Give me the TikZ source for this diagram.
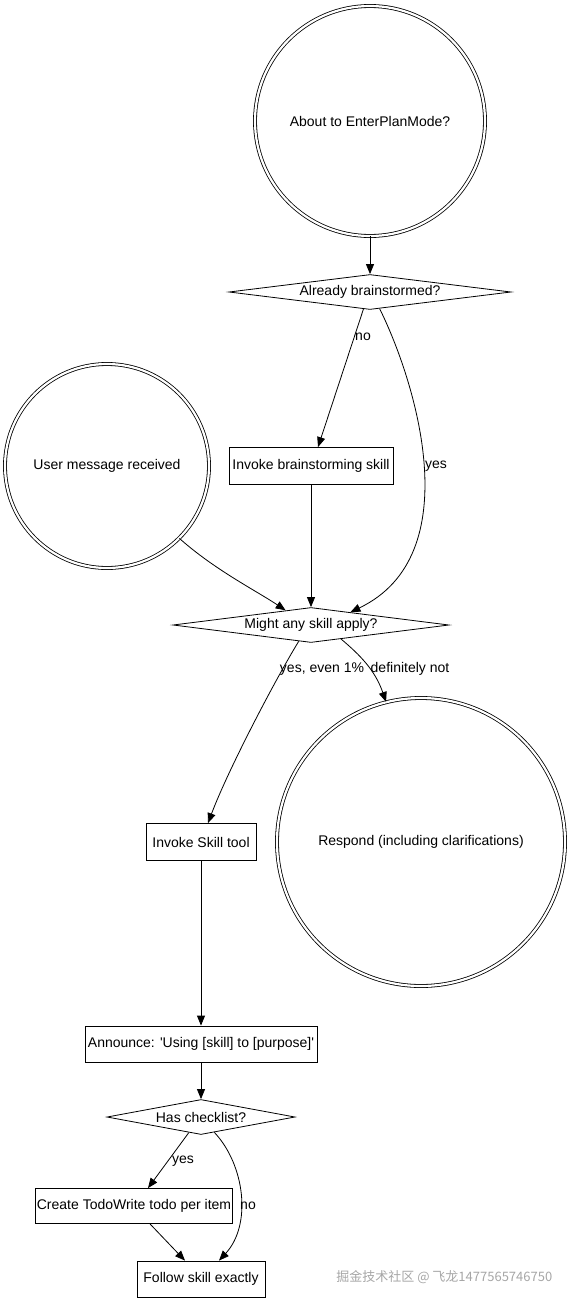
\documentclass[tikz,border=0pt]{standalone}
\usepackage{fontspec}
\setmainfont{Liberation Sans}
\newfontfamily\cjk{Noto Sans CJK SC}
\usetikzlibrary{arrows.meta}
\usetikzlibrary{shapes.geometric}

\begin{document}
\begin{tikzpicture}[x=1pt, y=-1pt, line width=0.8pt,
font=\fontsize{14}{17}\selectfont,
arr/.style={-{Triangle[length=10pt,width=8pt]}},
startcirc/.style={circle, draw, double, double distance=2.2pt, inner sep=0},
decision/.style={diamond, draw, aspect=8, inner sep=0},
stepbox/.style={rectangle, draw, minimum height=37, inner xsep=1pt},
lbl/.style={inner sep=1pt}]
\useasboundingbox (0,0) rectangle (572,1301);
% nodes
\node[startcirc, minimum size=230] (plan) at (370,121) {About to EnterPlanMode?};
\node[decision, minimum width=282, minimum height=35] (brainstormed) at (370,292) {Already brainstormed?};
\node[startcirc, minimum size=204] (usermsg) at (107,466) {User message received};
\node[stepbox, minimum width=164] (brainstorm) at (311,466) {Invoke brainstorming skill};
\node[decision, minimum width=276, minimum height=35] (apply) at (311,625) {Might any skill apply?};
\node[stepbox, minimum width=110] (skilltool) at (201,842) {Invoke Skill tool};
\node[startcirc, minimum size=288] (respond) at (421,842) {Respond (including clarifications)};
\node[stepbox, minimum width=232, minimum height=36] (announce) at (201,1044) {Announce: \textquotesingle Using [skill] to [purpose]\textquotesingle};
\node[decision, minimum width=188, minimum height=35] (checklist) at (201,1117) {Has checklist?};
\node[stepbox, minimum width=196, minimum height=35] (todo) at (134,1206) {Create TodoWrite todo per item};
\node[stepbox, minimum width=128, minimum height=36] (follow) at (201,1279) {Follow skill exactly};
% connectors
\draw[arr] (plan) -- (brainstormed);
\draw[arr] (brainstormed.-111) -- ([xshift=7pt]brainstorm.north);
\draw[arr] (brainstormed.-60) .. controls (415,380) and (470,555) .. (apply.18);
\draw[arr] (usermsg.-45) .. controls (215,570) and (255,590) .. (apply.150);
\draw[arr] (brainstorm) -- (apply);
\draw[arr] (apply.-127) .. controls (275,680) and (228,770) .. ([xshift=7pt]skilltool.north);
\draw[arr] (apply.-25) .. controls (360,655) and (375,670) .. (respond.104);
\draw[arr] (skilltool) -- (announce);
\draw[arr] (announce) -- (checklist);
\draw[arr] (checklist.-128) -- ([xshift=14pt]todo.north);
\draw[arr] ([xshift=16pt]todo.south) -- ([xshift=-16pt]follow.north);
\draw[arr] (checklist.-49) .. controls (245,1165) and (252,1225) .. ([xshift=18pt]follow.north);
% edge labels
\node[lbl] (lno) at (363,337) {no};
\node[lbl] (lyes) at (436,466) {yes};
\node[lbl] (lyeseven) at (322,669) {yes, even 1\%};
\node[lbl] (lnot) at (410,669) {definitely not};
\node[lbl] (lyes2) at (183,1161) {yes};
\node[lbl] (lno2) at (248,1206) {no};
% watermark
\node[anchor=east, text=gray!70, font=\cjk\fontsize{13}{15}\selectfont] (mark) at (556,1277) {掘金技术社区 @ 飞龙1477565746750};
\end{tikzpicture}
\end{document}
